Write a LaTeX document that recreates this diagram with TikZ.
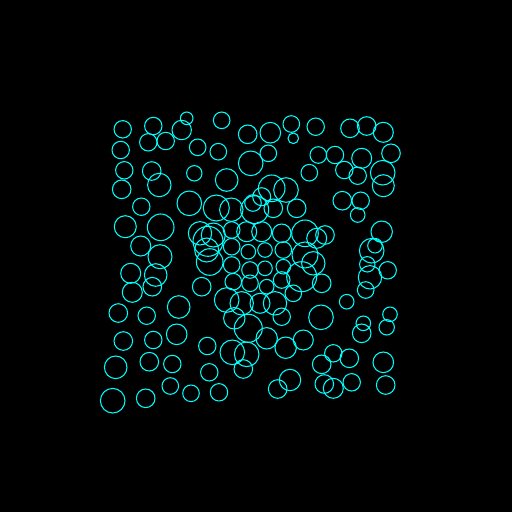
\documentclass[tikz,border=0pt]{standalone}
\definecolor{ringcyan}{RGB}{0,255,255}
\tikzset{ring/.style={draw=ringcyan, line width=0.6pt}}
\begin{document}
\begin{tikzpicture}[x=0.02cm,y=-0.02cm]
        \fill[black] (0,0) rectangle (512,512);
        % outer rings, top
        \foreach \x/\y/\r in {122.7/129.3/8.7, 153.3/126/8.7, 186.7/118.3/6.3, 181.7/130/9.7,
            148.3/142.3/8.7, 165.7/141/8.7, 120.7/150/8.7, 197.7/147.3/8.3, 124.3/170.3/8.7,
            151.7/171/9.3, 159.3/185/11.7, 194.3/173.3/7.7, 121.7/189.3/9.3, 141.3/206.7/8.7,
            189.3/203.3/12.3, 221.7/120.3/8.3, 291.3/124/8.3, 247.7/134.3/9.3, 270.3/132.7/10.3,
            293.3/138.3/5.3, 218.3/151.7/8.3, 268.3/153.3/8.3, 250.7/163.3/12.3, 226.7/180/11.3,
            271.7/188.3/13.3, 286/190/12.3, 315.7/126.7/8.7, 350/128.3/9.3, 366.7/126/9.3,
            383.3/132.3/10, 318.3/155/8.3, 335/155/8.7, 361.7/158.3/10, 391/153.3/9.3,
            309.3/172.7/8.3, 344.3/170/8.7, 357.7/175.7/8.7, 382.7/172.7/12.3, 383.3/185.7/11,
            342.3/200.7/9.3, 360.7/200.7/8.7}
            \draw[ring] (\x,\y) circle [radius=\r];
        % outer rings, sides and bottom
        \foreach \x/\y/\r in {125.3/226.7/11, 160.7/227.3/13.3, 140.7/246/10, 160/256.7/12,
            130.7/273.3/10, 155.7/275/11.3, 152.3/286.7/9.3, 132.3/292.3/10, 178.7/307/11.3,
            357.7/215/7.3, 381.7/231.7/10.7, 371.7/250.7/12.3, 375/245.7/7.3, 367.3/264.3/7.7,
            387.7/270.3/8.7, 370/277.3/11.7, 365.7/290/8.3, 346.7/301.7/7.3,
            118.3/313/9.3, 146.7/315.7/8.7, 123.3/341/9.3, 153.3/340/8.7, 176.7/334.3/10.3,
            115.7/367.3/11.3, 149.3/361.7/9.3, 172.3/364/8.7, 170.3/386/8.3, 191/393.3/8.3,
            112.7/400.7/12.3, 145.7/398.3/9.3, 234.3/318.3/10.7, 248.3/328.3/14, 266.7/338.3/10.7,
            281.7/316.7/8.7, 207.3/346/8.7, 232.3/352.3/12.3, 246.7/354.3/12.3, 243.3/369/9.3,
            285.7/347.7/10.7, 209.3/372.3/8.7, 219/392.3/8.7, 277.7/389/9.3, 290/380/10.7,
            321/317.3/12.3, 390/314.3/7.3, 363.3/323.3/7.3, 361.7/333.3/9.3, 386.7/327.3/7.7,
            303.3/340/10, 333.3/353.3/8.7, 349.3/358.3/9.3, 321.7/364.3/9.3, 383.3/362.3/10.3,
            324.3/384/9.3, 333.3/388.3/10, 351.7/382.3/8.7, 385.7/385/9.3}
            \draw[ring] (\x,\y) circle [radius=\r];
        % dense middle
        \foreach \x/\y/\r in {216.3/208/13, 231.3/209.7/11.7, 254.7/209.7/14, 253/203/8.3,
            208/241.3/15, 200/233.3/11.7, 213.3/235/12, 231.7/230/8.3, 246.7/231.7/10, 261.7/231.7/10,
            206.7/250/12, 209.7/262/13.3, 231.7/246.7/8.3, 248.3/251.7/7.3, 231.7/265/8.3,
            250/270/8.3, 201.7/286.7/9.3, 233.3/281.7/8.3, 250/283.3/8.3, 226.7/300/12.3,
            241.7/303.3/11.7, 260/303.3/10, 261.7/196.7/9, 273.3/208.3/9.3, 296.7/208.3/9.3,
            281.7/233.3/9.3, 305/233.3/13.3, 325/235/9.3, 316.7/238.3/10, 265/250/7.3,
            283.3/250/8.3, 305/255/13, 313.3/263.3/11.7, 265/268.3/7.3, 283.3/266.7/7.3,
            301.7/276.7/15, 321.7/283.3/9.3, 266.7/286.7/7.3, 281.7/280/8.3, 293.3/293.3/8.3,
            275/303.3/11.7}
            \draw[ring] (\x,\y) circle [radius=\r];
    \end{tikzpicture}
\end{document}
